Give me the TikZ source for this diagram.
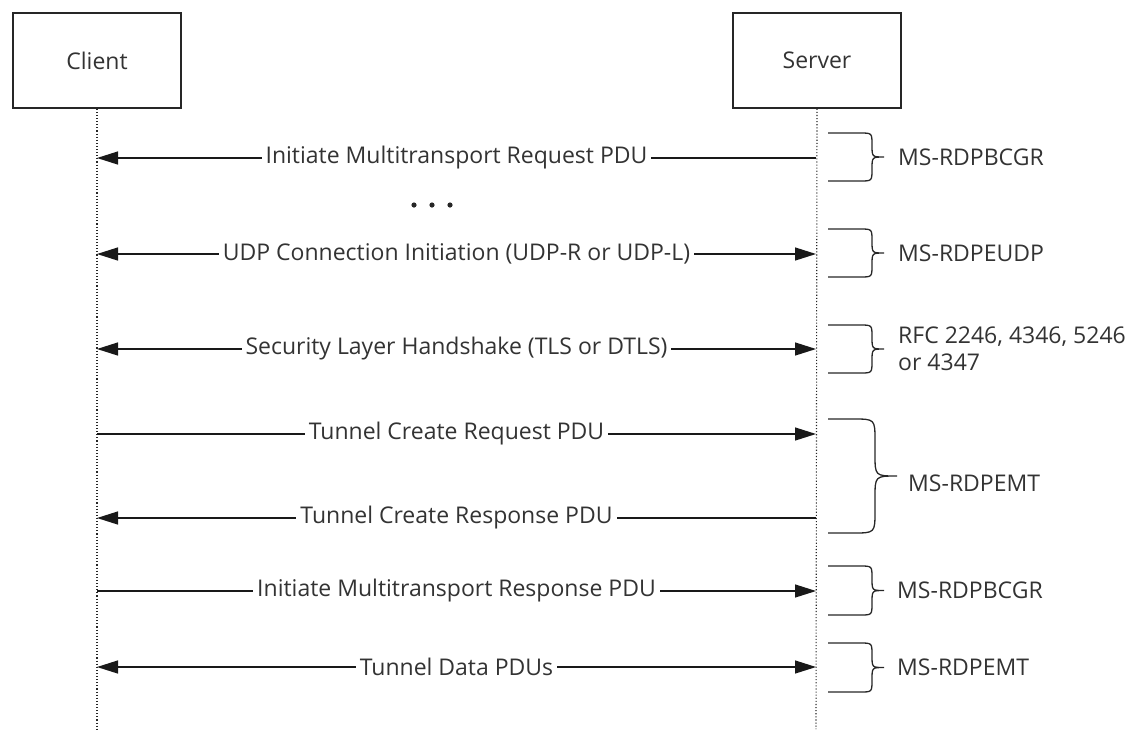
\documentclass[tikz,border=0pt]{standalone}
\usepackage{fontspec}
\setmainfont{Open Sans}
\usepackage{tikz}
\usetikzlibrary{arrows.meta,positioning,calc}
\tikzset{
         actor/.style={draw=black!85,line width=1.4pt,minimum width=168pt,minimum height=95pt,text=black!80},
         lifeline/.style={black!85,line width=1.1pt,dotted},
         msg/.style={black!90,line width=1.3pt},
         msglbl/.style={fill=white,text=black!80,inner sep=4pt,midway},
         speclbl/.style={anchor=west,text=black!80,inner sep=0pt,align=left},
         tip/.style={-{Triangle[length=21pt,width=13pt]}},
         bothtips/.style={{Triangle[length=21pt,width=13pt]}-{Triangle[length=21pt,width=13pt]}}
        }
% brace with flat arms: top, bottom, end of arm, bend radius
\newcommand{\specbrace}[4]{%
 \draw[black!85,line width=1.3pt]
   (828,#1) -- (#3,#1) .. controls ($(#3+#4,#1)$) .. ($(#3+#4,#1+#4)$)
   -- ($(#3+#4,#1/2+#2/2-#4)$) .. controls ($(#3+#4,#1/2+#2/2)$) and ($(#3+#4,#1/2+#2/2)$) .. ($(#3+2*#4,#1/2+#2/2)$)
   .. controls ($(#3+#4,#1/2+#2/2)$) and ($(#3+#4,#1/2+#2/2)$) .. ($(#3+#4,#1/2+#2/2+#4)$)
   -- ($(#3+#4,#2-#4)$) .. controls ($(#3+#4,#2)$) .. (#3,#2) -- (828,#2);}

\begin{document}
\begin{tikzpicture}[x=1pt,y=-1pt,font=\fontsize{23}{27}\selectfont]
\useasboundingbox (0,0) rectangle (1127,729);
\node[actor] (client) at (97,60.5) {Client};
\node[actor] (server) at (817,60.5) {Server};
\coordinate (client-end) at (97,729);
\coordinate (server-end) at (816,729);
\draw[lifeline] (client.south) -- (client-end);
\draw[lifeline] (server.south) -- (server-end);
% messages
\coordinate (c1) at (97,158);  \coordinate (s1) at (816,158);
\coordinate (c2) at (97,254);  \coordinate (s2) at (816,254);
\coordinate (c3) at (97,349);  \coordinate (s3) at (816,349);
\coordinate (c4) at (97,434);  \coordinate (s4) at (816,434);
\coordinate (c5) at (97,518);  \coordinate (s5) at (816,518);
\coordinate (c6) at (97,591);  \coordinate (s6) at (816,591);
\coordinate (c7) at (97,667);  \coordinate (s7) at (816,667);
\draw[msg,tip](s1) -- node[msglbl] (m1) {Initiate Multitransport Request PDU} (c1);
\draw[msg,bothtips](c2) -- node[msglbl] (m2) {UDP Connection Initiation (UDP-R or UDP-L)} (s2);
\draw[msg,bothtips](c3) -- node[msglbl] (m3) {Security Layer Handshake (TLS or DTLS)} (s3);
\draw[msg,tip](c4) -- node[msglbl] (m4) {Tunnel Create Request PDU} (s4);
\draw[msg,tip](s5) -- node[msglbl] (m5) {Tunnel Create Response PDU} (c5);
\draw[msg,tip](c6) -- node[msglbl] (m6) {Initiate Multitransport Response PDU} (s6);
\draw[msg,bothtips](c7) -- node[msglbl] (m7) {Tunnel Data PDUs} (s7);
% ellipsis
\fill[black!85](414,205) circle (2.6);
\fill[black!85](432,205) circle (2.6);
\fill[black!85](450,205) circle (2.6);
% specs
\specbrace{133}{181}{860}{12}
\specbrace{229}{277}{860}{12}
\specbrace{325}{373}{860}{12}
\specbrace{419}{533}{853}{22}
\specbrace{566}{615}{860}{12}
\specbrace{643}{692}{860}{12}
\node[speclbl] (p1) at (898,157) {MS-RDPBCGR};
\node[speclbl] (p2) at (898,253) {MS-RDPEUDP};
\node[speclbl] (p3) at (898,349) {RFC 2246, 4346, 5246\\or 4347};
\node[speclbl] (p4) at (908,483) {MS-RDPEMT};
\node[speclbl] (p5) at (897,590) {MS-RDPBCGR};
\node[speclbl] (p6) at (897,667) {MS-RDPEMT};
\end{tikzpicture}
\end{document}
